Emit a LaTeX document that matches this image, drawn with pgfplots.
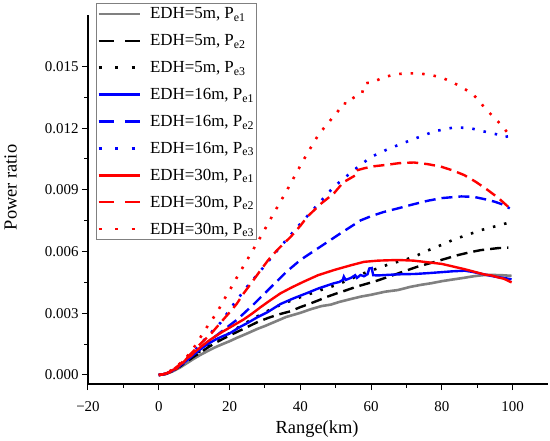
\documentclass[border=0pt]{standalone}
\usepackage{fontspec}
\setmainfont{Liberation Serif}
\usepackage{pgfplots}
\pgfplotsset{compat=1.18}
\begin{document}
\begin{tikzpicture}
\begin{axis}[
  at={(0,0)}, anchor=south west,
  scale only axis, width=460bp, height=369bp,
  xmin=-20, xmax=110, ymin=-0.438e-3, ymax=17.5e-3,
  axis x line=bottom, axis y line=left,
  axis line style={-, line width=1.1bp, black},
  xtick={-20,0,20,40,60,80,100},
  xticklabels={−20,0,20,40,60,80,100},
  minor x tick num=1,
  ytick={0,0.003,0.006,0.009,0.012,0.015},
  yticklabels={0.000,0.003,0.006,0.009,0.012,0.015},
  minor y tick num=1,
  scaled y ticks=false,
  tick align=outside, major tick length=6bp, minor tick length=3.5bp,
  tick style={black, line width=1bp},
  ticklabel style={font=\fontsize{15}{15}\selectfont},
  xticklabel style={yshift=-8bp},
  xlabel={Range(km)}, ylabel={Power ratio},
  label style={font=\fontsize{18.5}{18.5}\selectfont},
  xlabel style={at={(axis description cs:0.498,-0.1355)}, anchor=base},
  ylabel style={at={(axis description cs:-0.155,0.5325)}, anchor=base},
  legend cell align=left,
  legend image code/.code={\draw[#1] (0bp,0bp) -- (41bp,0bp);},
  legend style={at={(axis description cs:0.01739,1.03252)}, anchor=north west,
    draw=gray, line width=0.8bp, fill=white,
    font=\fontsize{17}{17}\selectfont,
    inner xsep=1bp, inner ysep=0.5bp, row sep=6.9bp,
    nodes={inner xsep=1bp, inner ysep=0bp, text height=15bp, text depth=5bp},
    /tikz/every odd column/.append style={column sep=8bp}},
]
% EDH=5m, Pe1
\addplot[gray, line width=2.6bp] coordinates {
(0,0) (2,0.05e-3) (4,0.18e-3) (6,0.36e-3) (8,0.58e-3) (10,0.8e-3) (12,1.0e-3) (14,1.18e-3) (16,1.35e-3) (18,1.5e-3) (20,1.64e-3) (22,1.8e-3) (25,2.02e-3) (28,2.25e-3) (30,2.38e-3) (33,2.6e-3) (36,2.82e-3) (40,3.02e-3) (43,3.2e-3) (46,3.35e-3) (48.6,3.42e-3) (51,3.55e-3) (54,3.68e-3) (57.1,3.81e-3) (60,3.9e-3) (64,4.05e-3) (67.6,4.13e-3) (71,4.28e-3) (74,4.38e-3) (77,4.46e-3) (80,4.56e-3) (83,4.64e-3) (86.5,4.73e-3) (89,4.8e-3) (92,4.86e-3) (95,4.86e-3) (97,4.85e-3) (99.7,4.82e-3)
};
\addlegendentry{EDH=5m, P\textsubscript{e1}}
% EDH=5m, Pe2
\addplot[black, line width=2.4bp, dash pattern=on 11bp off 6bp, legend image post style={dash pattern=on 15bp off 11.6bp}] coordinates {
(0,0) (2,0.05e-3) (4,0.2e-3) (6,0.42e-3) (8,0.66e-3) (10,0.9e-3) (12,1.12e-3) (14,1.35e-3) (16,1.56e-3) (18.4,1.78e-3) (21,2.0e-3) (25,2.33e-3) (28,2.58e-3) (31,2.78e-3) (34,2.95e-3) (37.3,3.1e-3) (40,3.3e-3) (42,3.42e-3) (45,3.62e-3) (47.7,3.81e-3) (50,3.95e-3) (53,4.12e-3) (56,4.3e-3) (60.9,4.54e-3) (64,4.72e-3) (67,4.9e-3) (70,5.08e-3) (73.2,5.27e-3) (77,5.45e-3) (80,5.6e-3) (84.6,5.83e-3) (88,5.97e-3) (91,6.07e-3) (94,6.13e-3) (96,6.17e-3) (98.8,6.19e-3)
};
\addlegendentry{EDH=5m, P\textsubscript{e2}}
% EDH=5m, Pe3
\addplot[black, line width=2.6bp, dash pattern=on 2.5bp off 9bp, legend image post style={dash pattern=on 3bp off 13.5bp}] coordinates {
(0,0) (2,0.05e-3) (4,0.2e-3) (6,0.43e-3) (8,0.68e-3) (10,0.95e-3) (12,1.2e-3) (14,1.45e-3) (16,1.68e-3) (18,1.87e-3) (20.3,2.05e-3) (23,2.38e-3) (26.9,2.76e-3) (30,3.05e-3) (33,3.3e-3) (35.4,3.49e-3) (38,3.65e-3) (40,3.78e-3) (42,3.9e-3) (45.8,4.13e-3) (48,4.25e-3) (50.6,4.4e-3) (54,4.65e-3) (58,4.95e-3) (61.9,5.19e-3) (65,5.38e-3) (70,5.62e-3) (73.2,5.83e-3) (76,6.05e-3) (80,6.33e-3) (83.6,6.6e-3) (87,6.8e-3) (91.2,7.05e-3) (95,7.22e-3) (98.8,7.4e-3)
};
\addlegendentry{EDH=5m, P\textsubscript{e3}}
% EDH=16m, Pe1
\addplot[blue, line width=2.4bp] coordinates {
(0,0) (2,0.06e-3) (4,0.22e-3) (6,0.45e-3) (8,0.72e-3) (10,1.0e-3) (12,1.28e-3) (14,1.52e-3) (16,1.72e-3) (18,1.88e-3) (20,2.02e-3) (23.1,2.35e-3) (25,2.52e-3) (27.8,2.8e-3) (30.7,3.05e-3) (34.4,3.45e-3) (38,3.72e-3) (42,3.99e-3) (45,4.2e-3) (49.5,4.46e-3) (51,4.52e-3) (52,4.62e-3) (52.3,4.78e-3) (52.8,4.62e-3) (54.3,4.72e-3) (55.5,4.85e-3) (56,4.72e-3) (57,4.86e-3) (58,4.8e-3) (59,4.9e-3) (59.5,5.18e-3) (60.2,5.2e-3) (60.6,4.85e-3) (62,4.84e-3) (65,4.87e-3) (69,4.9e-3) (72.3,4.91e-3) (76,4.95e-3) (80,5.0e-3) (83,5.04e-3) (86.5,5.07e-3) (89,5.0e-3) (92.2,4.88e-3) (95,4.78e-3) (97.5,4.72e-3) (99.7,4.65e-3)
};
\addlegendentry{EDH=16m, P\textsubscript{e1}}
% EDH=16m, Pe2
\addplot[blue, line width=2.4bp, dash pattern=on 11bp off 6bp, legend image post style={dash pattern=on 15bp off 11.6bp}] coordinates {
(0,0) (2,0.06e-3) (4,0.22e-3) (6,0.46e-3) (8,0.75e-3) (10,1.05e-3) (12,1.35e-3) (14,1.62e-3) (16,1.88e-3) (18.4,2.2e-3) (22.2,2.7e-3) (26.9,3.45e-3) (31.6,4.25e-3) (36.3,5.05e-3) (40.1,5.6e-3) (45.7,6.24e-3) (51.4,6.89e-3) (57.1,7.52e-3) (60,7.72e-3) (63.5,7.92e-3) (67.6,8.1e-3) (72,8.3e-3) (76,8.47e-3) (80,8.6e-3) (85.5,8.68e-3) (89,8.66e-3) (92,8.55e-3) (95,8.42e-3) (97,8.3e-3) (99.2,8.1e-3)
};
\addlegendentry{EDH=16m, P\textsubscript{e2}}
% EDH=16m, Pe3
\addplot[blue, line width=2.6bp, dash pattern=on 2.5bp off 9bp, legend image post style={dash pattern=on 3bp off 13.5bp}] coordinates {
(0,0) (2,0.06e-3) (4,0.24e-3) (6,0.5e-3) (8,0.8e-3) (10,1.15e-3) (12,1.55e-3) (14.6,2.03e-3) (17.5,2.55e-3) (21.2,3.45e-3) (25,4.3e-3) (29.7,5.26e-3) (34.4,6.24e-3) (40.1,7.37e-3) (45,8.3e-3) (49.5,9.15e-3) (55.2,9.97e-3) (60,10.6e-3) (65,11.0e-3) (71.3,11.42e-3) (78,11.85e-3) (83.6,12.04e-3) (88,12.0e-3) (92.1,11.83e-3) (96,11.68e-3) (97.5,11.56e-3) (99.2,11.62e-3)
};
\addlegendentry{EDH=16m, P\textsubscript{e3}}
% EDH=30m, Pe1
\addplot[red, line width=2.4bp] coordinates {
(0,0) (1,0.02e-3) (2,0.08e-3) (3,0.12e-3) (4,0.25e-3) (5,0.3e-3) (6,0.5e-3) (7,0.62e-3) (8,0.82e-3) (9,0.92e-3) (10,1.1e-3) (12,1.38e-3) (14,1.65e-3) (16,1.88e-3) (18,2.1e-3) (20,2.3e-3) (22,2.5e-3) (24,2.7e-3) (26.5,3.0e-3) (28.8,3.3e-3) (31.5,3.63e-3) (34.4,3.97e-3) (37.5,4.25e-3) (41,4.54e-3) (45,4.85e-3) (49.5,5.1e-3) (54,5.32e-3) (58,5.5e-3) (62,5.56e-3) (67.6,5.59e-3) (72,5.56e-3) (77,5.46e-3) (80,5.4e-3) (83,5.28e-3) (86.5,5.14e-3) (90,4.98e-3) (92.2,4.88e-3) (94,4.84e-3) (96,4.74e-3) (97.5,4.68e-3) (98.5,4.6e-3) (99.7,4.5e-3)
};
\addlegendentry{EDH=30m, P\textsubscript{e1}}
% EDH=30m, Pe2
\addplot[red, line width=2.4bp, dash pattern=on 11bp off 6bp, legend image post style={dash pattern=on 15bp off 11.6bp}] coordinates {
(0,0) (2,0.06e-3) (4,0.25e-3) (6,0.52e-3) (8,0.85e-3) (10,1.2e-3) (12,1.55e-3) (15,2.05e-3) (17.5,2.55e-3) (19.8,3.0e-3) (22,3.45e-3) (24,3.97e-3) (26.5,4.55e-3) (28.8,5.1e-3) (31,5.6e-3) (33.5,6.08e-3) (37.3,6.72e-3) (40,7.25e-3) (42,7.7e-3) (46,8.35e-3) (49.5,8.83e-3) (52.3,9.4e-3) (53,9.45e-3) (55.7,9.72e-3) (56,9.95e-3) (58.1,10.05e-3) (61,10.15e-3) (64.6,10.22e-3) (68,10.3e-3) (72.1,10.33e-3) (76,10.25e-3) (79.7,10.13e-3) (83,9.95e-3) (86.3,9.72e-3) (89.5,9.4e-3) (92.9,9.0e-3) (96,8.6e-3) (98.6,8.2e-3) (99.5,8.1e-3)
};
\addlegendentry{EDH=30m, P\textsubscript{e2}}
% EDH=30m, Pe3
\addplot[red, line width=2.6bp, dash pattern=on 2.5bp off 9bp, legend image post style={dash pattern=on 3bp off 13.5bp}] coordinates {
(0,0) (2,0.07e-3) (4,0.28e-3) (6,0.56e-3) (8,0.9e-3) (9.4,1.2e-3) (11,1.6e-3) (12.7,2.1e-3) (14.1,2.45e-3) (16.5,3.05e-3) (18.4,3.65e-3) (20.3,4.2e-3) (22.2,4.78e-3) (25,5.6e-3) (28.8,6.72e-3) (32.5,7.86e-3) (36.3,9.0e-3) (40.1,10.2e-3) (42,10.78e-3) (45.2,11.7e-3) (48.6,12.4e-3) (51,12.9e-3) (52.4,13.0e-3) (52.8,13.35e-3) (54.3,13.4e-3) (56.2,13.6e-3) (57.5,13.7e-3) (58,14.15e-3) (59,14.2e-3) (60,14.2e-3) (63.7,14.48e-3) (67,14.62e-3) (70.4,14.67e-3) (74,14.65e-3) (77,14.58e-3) (80,14.45e-3) (82.7,14.26e-3) (85.5,14.0e-3) (88.4,13.7e-3) (90.5,13.35e-3) (92,13.0e-3) (94,12.65e-3) (96,12.3e-3) (97.5,12.0e-3) (99.1,11.67e-3)
};
\addlegendentry{EDH=30m, P\textsubscript{e3}}
\end{axis}
\pgfresetboundingbox
\path[use as bounding box] (-88bp,-57bp) rectangle (462bp,384bp);
\end{tikzpicture}
\end{document}
